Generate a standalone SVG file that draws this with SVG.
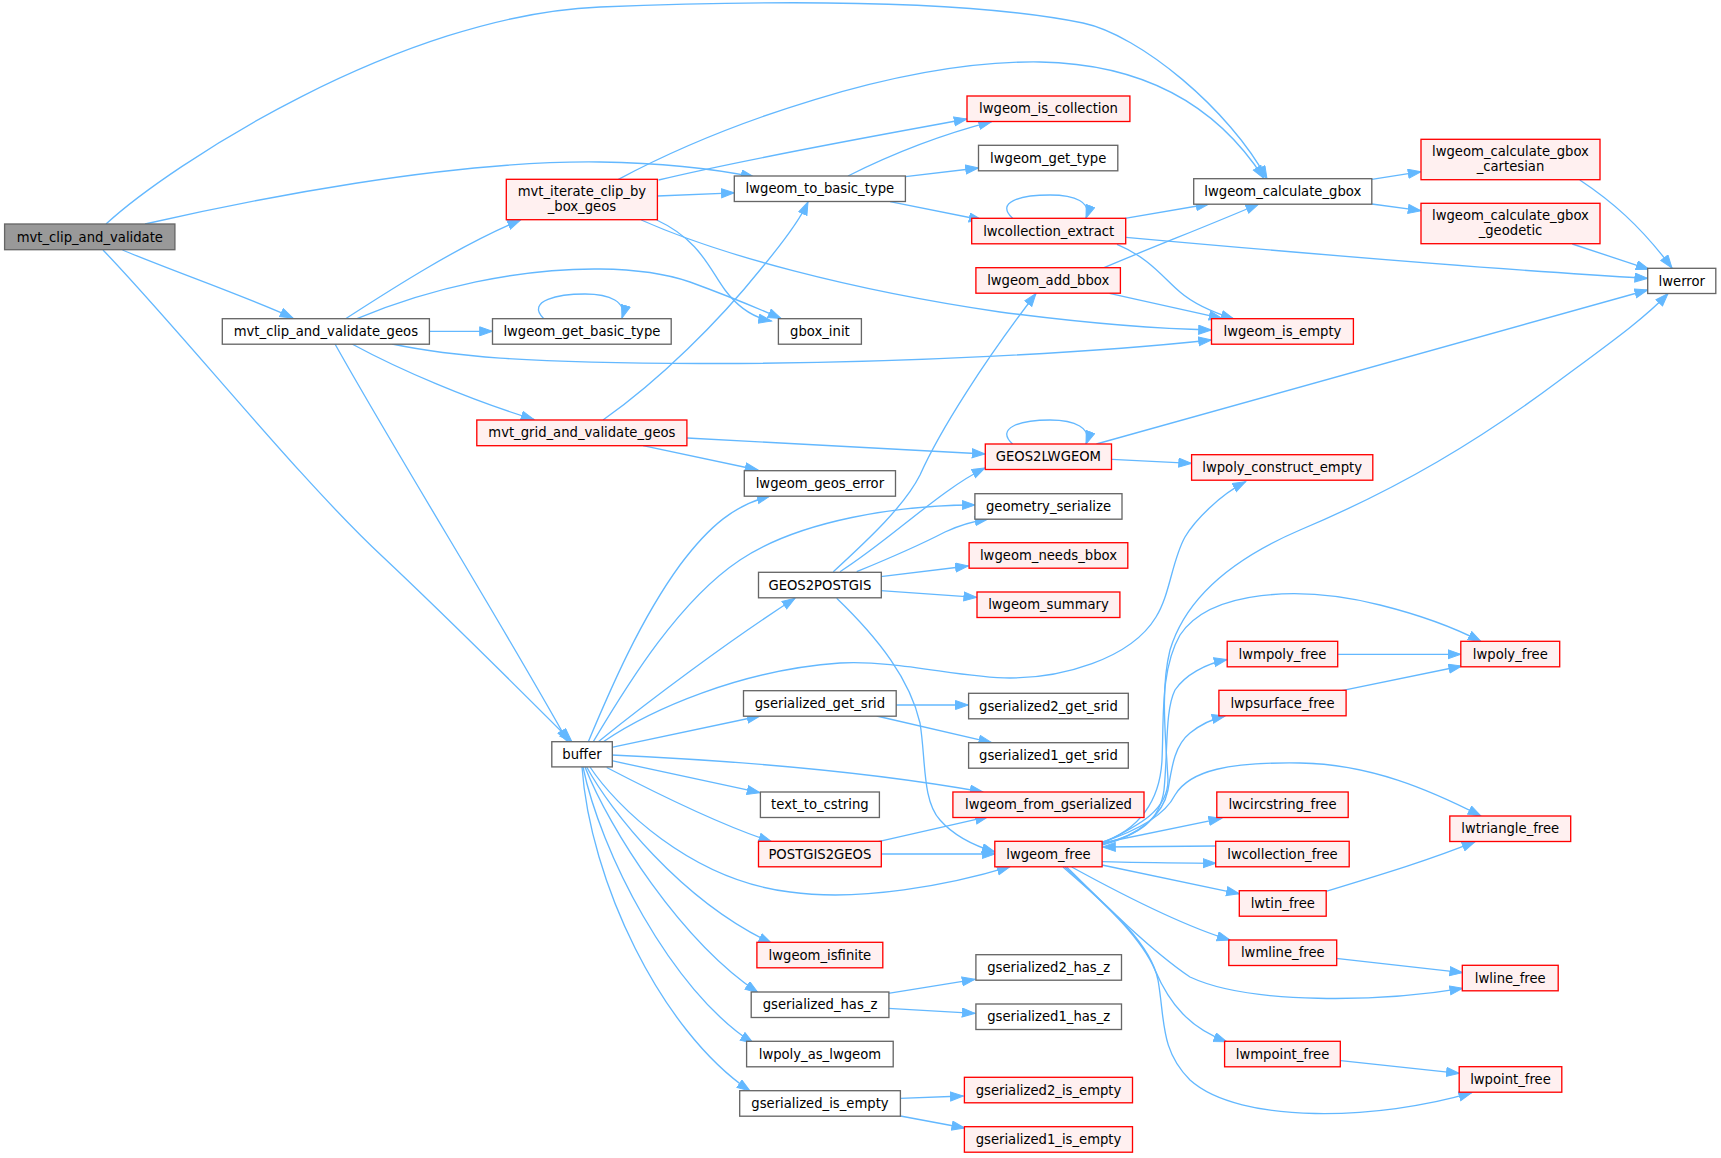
<svg xmlns="http://www.w3.org/2000/svg" width="1721" height="1158" viewBox="0 0 1721 1158">
<style>
.n rect{fill:#ffffff;stroke:#666666;stroke-width:1.33}
.r rect{fill:#fff0f0;stroke:#ff0000;stroke-width:1.33}
.root rect{fill:#999999;stroke:#666666;stroke-width:1.33}
text{font-family:"DejaVu Sans","Liberation Sans",sans-serif;font-size:13.2px;text-anchor:middle;fill:#000000}
#edges path{fill:none;stroke:#63b8ff;stroke-width:1.33;marker-end:url(#arr)}
</style>
<defs>
<marker id="arr" markerUnits="userSpaceOnUse" markerWidth="16" markerHeight="12" refX="13.3" refY="5" orient="auto">
<path d="M0.5,0.5 L13.3,5 L0.5,9.5 z" fill="#63b8ff" stroke="#63b8ff" stroke-width="1"/>
</marker>
</defs>
<rect width="1721" height="1158" fill="#ffffff"/>
<g id="edges">
<path d="M106,224 C170,165 400,15 600,7 C750,1 960,-2 1083,23 C1140,35 1230,110 1267,179"/>
<path d="M145,224 C250,200 450,160 600,162 C660,163 710,168 754,177"/>
<path d="M122.5,250 C170,270 250,298 293,318"/>
<path d="M103,250 C180,330 300,480 383,557 C450,620 520,690 572,742"/>
<path d="M345.6,318.7 C390,290 460,245 520.5,220"/>
<path d="M357,318.7 C430,288 520,268 600,269 C640,269.5 670,275 690,282 C720,293 755,307 781,318.5"/>
<path d="M429.4,331.3 L492.5,331.3"/>
<path d="M392,344 C450,356 520,363 700,363.5 C900,364 1100,352 1211.5,340"/>
<path d="M352,344 C400,370 470,400 534,419.5"/>
<path d="M335,344 C400,460 500,620 568,742"/>
<path d="M618.4,179.3 C720,125 900,60 1040,62 C1150,64 1220,110 1264,178.5"/>
<path d="M658.6,180 C750,158 880,135 967,119"/>
<path d="M657.4,196 L734.3,192.8"/>
<path d="M656.7,220 C700,240 710,270 725,290 C740,310 755,318 771.5,321"/>
<path d="M641.3,220 C720,255 850,290 1000,312 C1100,325 1160,329 1211.5,330"/>
<path d="M543.8,318.7 C525,300 560,294 585,294 C610,294 627,302 622,318"/>
<path d="M603,420 C660,380 720,320 760,270 C785,240 800,220 808,202"/>
<path d="M687,438 L985,454"/>
<path d="M643,445.7 L758,470"/>
<path d="M848,176 C890,155 940,135 991.6,121.7"/>
<path d="M905.4,176.7 L978.5,168"/>
<path d="M890,201.7 L982,220"/>
<path d="M1012.6,218.3 C995,202 1020,195 1050,195 C1075,195 1092,202 1086,218"/>
<path d="M1125,218.3 L1209,204"/>
<path d="M1126,237.3 C1300,253 1500,270 1647.7,278.3"/>
<path d="M1117,244.3 C1150,258 1165,280 1180,292 C1195,305 1215,313 1234,319"/>
<path d="M1104,267.7 C1150,248 1210,225 1258.7,204"/>
<path d="M1109.4,293.3 L1222,318.3"/>
<path d="M1371.8,179.3 L1421,171.7"/>
<path d="M1371.8,204 L1421,210.7"/>
<path d="M1579.8,180 C1610,200 1640,225 1672,268"/>
<path d="M1572.3,244 L1649,269.3"/>
<path d="M1012.6,444 C995,428 1020,420 1050,420 C1075,420 1092,428 1086,444"/>
<path d="M1096.4,444 L1647.7,290"/>
<path d="M1112,459.3 L1191.6,463.3"/>
<path d="M833.3,571.7 C870,538 905,505 920,475 C940,430 985,360 1036,293.5"/>
<path d="M840,571.7 C890,540 940,490 985,468"/>
<path d="M856.7,571.7 C890,558 920,545 945,532 C960,525 975,521 988,519"/>
<path d="M880.7,576.7 L968.3,566"/>
<path d="M880.7,590.7 L976.7,597.3"/>
<path d="M836.7,598.3 C880,640 910,680 920,723 C926,760 922,800 940,820 C955,837 975,846 995,852"/>
<path d="M588.3,741.7 C610,690 640,620 680,565 C710,525 735,505 770,496"/>
<path d="M593.3,741.7 C630,680 680,600 740,560 C800,520 900,505 975,505"/>
<path d="M598.3,741.7 C650,700 730,640 795,598.3"/>
<path d="M603.3,741.7 C650,710 740,670 840,663 C900,660 960,678 1010,678 C1060,678 1130,660 1156,617 C1170,595 1172,560 1185,537 C1195,520 1220,495 1245.6,481.7"/>
<path d="M611.7,747.3 L760,716"/>
<path d="M611.7,755 C720,760 860,770 983,792"/>
<path d="M611.7,760.7 L760,792.7"/>
<path d="M606.7,767.5 C650,790 720,825 771.7,841.7"/>
<path d="M590,767 C615,805 690,880 790,892 C860,902 950,885 1010,866.7"/>
<path d="M586.7,767 C610,810 680,900 771.7,943.3"/>
<path d="M585,767 C610,830 680,940 758,992.7"/>
<path d="M583,767 C600,850 670,990 753.3,1043.3"/>
<path d="M582,767 C590,880 660,1030 750,1091"/>
<path d="M895.7,705 L968.3,705"/>
<path d="M876.7,716 L991.7,742.7"/>
<path d="M878.3,841.7 L988.3,816.7"/>
<path d="M880.7,854 L995,854"/>
<path d="M888.3,993.3 L975,979.3"/>
<path d="M888.3,1008.3 L975,1013.3"/>
<path d="M900,1098.3 L963.3,1096"/>
<path d="M900.4,1116 L964.7,1128"/>
<path d="M1103,843 C1140,825 1168,810 1168,780 C1166,740 1160,690 1170,650 C1185,600 1230,560 1300,530 C1400,488 1480,440 1560,380 C1610,343 1645,318 1668,293.5"/>
<path d="M1102,844 C1140,835 1160,820 1164,790 C1168,750 1165,710 1175,690 C1185,675 1205,664 1227,659.5"/>
<path d="M1102,845 C1140,835 1163,815 1168,790 C1172,765 1175,745 1190,733 C1200,725 1212,719 1225,716"/>
<path d="M1100,843 C1140,830 1160,800 1162,760 C1164,720 1160,670 1180,635 C1210,590 1300,585 1380,605 C1420,615 1455,628 1481,641.5"/>
<path d="M1100,843 C1140,830 1165,815 1175,795 C1190,770 1230,762 1300,763 C1370,764 1430,790 1481,816"/>
<path d="M1102,843 L1221.7,818.3"/>
<path d="M1215.7,846 L1102.5,847"/>
<path d="M1102,861.7 C1150,863 1190,863 1216,863.3"/>
<path d="M1102,865 L1239.3,893.8"/>
<path d="M1071.7,867 C1110,888 1180,925 1230,940"/>
<path d="M1066.7,867 C1100,900 1150,950 1190,977 C1250,1005 1380,1002 1462.7,988.3"/>
<path d="M1065,867 C1100,900 1140,935 1155,970 C1170,1005 1190,1028 1226.7,1041.7"/>
<path d="M1063,867 C1100,900 1150,940 1158,980 C1165,1020 1160,1050 1190,1080 C1240,1125 1380,1120 1471.7,1092.7"/>
<path d="M1337.7,654.3 L1460.8,654.3"/>
<path d="M1341.7,690.7 L1461.7,666"/>
<path d="M1325,891.7 C1380,875 1430,860 1475,841.7"/>
<path d="M1336,958.3 L1462.7,972.7"/>
<path d="M1340.7,1060.7 L1459.3,1073.3"/>
</g>
<g id="node_mvt_clip_and_validate" class="root"><rect x="4.6" y="224" width="170.3" height="25.7"/><text x="89.8" y="241.5">mvt_clip_and_validate</text></g>
<g id="node_mvt_clip_and_validate_geos" class="n"><rect x="222.3" y="318.7" width="207.1" height="25.5"/><text x="325.9" y="336">mvt_clip_and_validate_geos</text></g>
<g id="node_mvt_iterate_clip_by_box_geos" class="r"><rect x="506.3" y="179.3" width="151.1" height="40.4"/><text x="581.9" y="196.3">mvt_iterate_clip_by</text><text x="581.9" y="210.8">_box_geos</text></g>
<g id="node_lwgeom_get_basic_type" class="n"><rect x="492.5" y="318.7" width="178.7" height="25.5"/><text x="581.9" y="336">lwgeom_get_basic_type</text></g>
<g id="node_mvt_grid_and_validate_geos" class="r"><rect x="476.8" y="420" width="210.1" height="25.7"/><text x="581.9" y="437.4">mvt_grid_and_validate_geos</text></g>
<g id="node_buffer" class="n"><rect x="551.8" y="741.7" width="60.5" height="25.2"/><text x="582" y="758.9">buffer</text></g>
<g id="node_lwgeom_to_basic_type" class="n"><rect x="734.3" y="176" width="171.1" height="25.5"/><text x="819.9" y="193.3">lwgeom_to_basic_type</text></g>
<g id="node_gbox_init" class="n"><rect x="778.4" y="318.7" width="83" height="25.5"/><text x="819.9" y="336">gbox_init</text></g>
<g id="node_lwgeom_geos_error" class="n"><rect x="744.3" y="470.7" width="151.2" height="25.5"/><text x="819.9" y="488">lwgeom_geos_error</text></g>
<g id="node_GEOS2POSTGIS" class="n"><rect x="758.5" y="572.3" width="122.8" height="25.5"/><text x="819.9" y="589.6">GEOS2POSTGIS</text></g>
<g id="node_gserialized_get_srid" class="n"><rect x="743.5" y="690.7" width="152.7" height="25.5"/><text x="819.9" y="708">gserialized_get_srid</text></g>
<g id="node_text_to_cstring" class="n"><rect x="760.4" y="792" width="119" height="25.5"/><text x="819.9" y="809.3">text_to_cstring</text></g>
<g id="node_POSTGIS2GEOS" class="r"><rect x="758.5" y="841.3" width="122.8" height="25.5"/><text x="819.9" y="858.6">POSTGIS2GEOS</text></g>
<g id="node_lwgeom_isfinite" class="r"><rect x="756.9" y="942.3" width="125.9" height="25.5"/><text x="819.9" y="959.6">lwgeom_isfinite</text></g>
<g id="node_gserialized_has_z" class="n"><rect x="751.2" y="992" width="137.7" height="25.5"/><text x="820" y="1009.3">gserialized_has_z</text></g>
<g id="node_lwpoly_as_lwgeom" class="n"><rect x="746.6" y="1041.3" width="146.6" height="25.5"/><text x="819.9" y="1058.6">lwpoly_as_lwgeom</text></g>
<g id="node_gserialized_is_empty" class="n"><rect x="739.7" y="1090.7" width="160.7" height="25.5"/><text x="820" y="1108">gserialized_is_empty</text></g>
<g id="node_lwgeom_is_collection" class="r"><rect x="967" y="96" width="162.9" height="25.5"/><text x="1048.5" y="113.3">lwgeom_is_collection</text></g>
<g id="node_lwgeom_get_type" class="n"><rect x="978.5" y="145.3" width="139.3" height="25.5"/><text x="1048.2" y="162.6">lwgeom_get_type</text></g>
<g id="node_lwcollection_extract" class="r"><rect x="971.7" y="218.3" width="154" height="25.5"/><text x="1048.7" y="235.6">lwcollection_extract</text></g>
<g id="node_lwgeom_add_bbox" class="r"><rect x="975.9" y="267.7" width="144.5" height="25.5"/><text x="1048.2" y="285">lwgeom_add_bbox</text></g>
<g id="node_GEOS2LWGEOM" class="r"><rect x="985.3" y="444" width="126.2" height="25.5"/><text x="1048.4" y="461.3">GEOS2LWGEOM</text></g>
<g id="node_geometry_serialize" class="n"><rect x="974.9" y="493.7" width="147.1" height="25.5"/><text x="1048.5" y="511">geometry_serialize</text></g>
<g id="node_lwgeom_needs_bbox" class="r"><rect x="969.1" y="542.7" width="158.7" height="25.5"/><text x="1048.5" y="560">lwgeom_needs_bbox</text></g>
<g id="node_lwgeom_summary" class="r"><rect x="977" y="592" width="142.9" height="25.5"/><text x="1048.5" y="609.3">lwgeom_summary</text></g>
<g id="node_gserialized2_get_srid" class="n"><rect x="968.6" y="693.3" width="159.7" height="25.5"/><text x="1048.5" y="710.6">gserialized2_get_srid</text></g>
<g id="node_gserialized1_get_srid" class="n"><rect x="968.6" y="742.7" width="159.7" height="25.5"/><text x="1048.5" y="760">gserialized1_get_srid</text></g>
<g id="node_lwgeom_from_gserialized" class="r"><rect x="952.9" y="792" width="191.1" height="25.5"/><text x="1048.5" y="809.3">lwgeom_from_gserialized</text></g>
<g id="node_lwgeom_free" class="r"><rect x="994.8" y="841.3" width="107.3" height="25.5"/><text x="1048.5" y="858.6">lwgeom_free</text></g>
<g id="node_gserialized2_has_z" class="n"><rect x="975.9" y="954.7" width="145.6" height="25.5"/><text x="1048.7" y="972">gserialized2_has_z</text></g>
<g id="node_gserialized1_has_z" class="n"><rect x="975.9" y="1004" width="145.6" height="25.5"/><text x="1048.7" y="1021.3">gserialized1_has_z</text></g>
<g id="node_gserialized2_is_empty" class="r"><rect x="964.4" y="1077.3" width="168.1" height="25.5"/><text x="1048.5" y="1094.6">gserialized2_is_empty</text></g>
<g id="node_gserialized1_is_empty" class="r"><rect x="964.4" y="1126.7" width="168.1" height="25.5"/><text x="1048.5" y="1144">gserialized1_is_empty</text></g>
<g id="node_lwgeom_calculate_gbox" class="n"><rect x="1193.7" y="178.7" width="178.1" height="25.5"/><text x="1282.8" y="196">lwgeom_calculate_gbox</text></g>
<g id="node_lwgeom_is_empty" class="r"><rect x="1211.5" y="318.7" width="141.9" height="25.5"/><text x="1282.5" y="336">lwgeom_is_empty</text></g>
<g id="node_lwpoly_construct_empty" class="r"><rect x="1191.6" y="454.7" width="181.2" height="25.5"/><text x="1282.2" y="472">lwpoly_construct_empty</text></g>
<g id="node_lwmpoly_free" class="r"><rect x="1227.2" y="641.3" width="110.5" height="25.5"/><text x="1282.5" y="658.6">lwmpoly_free</text></g>
<g id="node_lwpsurface_free" class="r"><rect x="1218.9" y="690.3" width="127.2" height="25.5"/><text x="1282.5" y="707.6">lwpsurface_free</text></g>
<g id="node_lwcircstring_free" class="r"><rect x="1216.8" y="792" width="131.4" height="25.5"/><text x="1282.5" y="809.3">lwcircstring_free</text></g>
<g id="node_lwcollection_free" class="r"><rect x="1215.7" y="841.3" width="133.5" height="25.5"/><text x="1282.5" y="858.6">lwcollection_free</text></g>
<g id="node_lwtin_free" class="r"><rect x="1239.3" y="890.7" width="86.9" height="25.5"/><text x="1282.8" y="908">lwtin_free</text></g>
<g id="node_lwmline_free" class="r"><rect x="1228.8" y="940" width="107.9" height="25.5"/><text x="1282.8" y="957.3">lwmline_free</text></g>
<g id="node_lwmpoint_free" class="r"><rect x="1224.6" y="1041.3" width="115.7" height="25.5"/><text x="1282.5" y="1058.6">lwmpoint_free</text></g>
<g id="node_lwgeom_calculate_gbox_cartesian" class="r"><rect x="1421" y="139.3" width="179" height="40.4"/><text x="1510.5" y="156.3">lwgeom_calculate_gbox</text><text x="1510.5" y="170.8">_cartesian</text></g>
<g id="node_lwgeom_calculate_gbox_geodetic" class="r"><rect x="1421" y="203.3" width="179" height="40.4"/><text x="1510.5" y="220.3">lwgeom_calculate_gbox</text><text x="1510.5" y="234.8">_geodetic</text></g>
<g id="node_lwpoly_free" class="r"><rect x="1460.8" y="641.3" width="98.9" height="25.5"/><text x="1510.3" y="658.6">lwpoly_free</text></g>
<g id="node_lwtriangle_free" class="r"><rect x="1449.8" y="816" width="120.9" height="25.5"/><text x="1510.3" y="833.3">lwtriangle_free</text></g>
<g id="node_lwline_free" class="r"><rect x="1462.3" y="965.3" width="95.9" height="25.5"/><text x="1510.3" y="982.6">lwline_free</text></g>
<g id="node_lwpoint_free" class="r"><rect x="1459.2" y="1066.7" width="102.6" height="25.5"/><text x="1510.5" y="1084">lwpoint_free</text></g>
<g id="node_lwerror" class="n"><rect x="1647.7" y="268.3" width="68.1" height="25.2"/><text x="1681.8" y="285.5">lwerror</text></g>
</svg>
